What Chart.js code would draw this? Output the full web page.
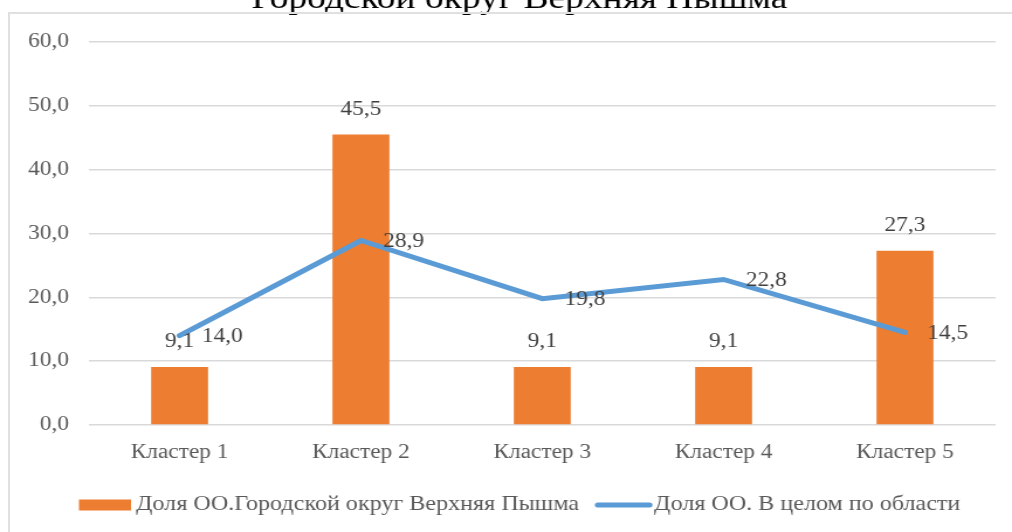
<!DOCTYPE html>
<html>
<head>
<meta charset="utf-8">
<script src="https://cdn.jsdelivr.net/npm/chart.js@4.4.0/dist/chart.umd.min.js"></script>
<style>
  html, body { margin: 0; padding: 0; background: #fff; }
  #wrap { position: relative; width: 1012px; height: 532px; overflow: hidden; }
  #frameTop { position: absolute; left: 9px; top: 12px; right: 0; height: 2px; background: #e0e0e0; }
  #frameLeft { position: absolute; left: 8px; top: 12px; bottom: 0; width: 2px; background: #e0e0e0; }
</style>
</head>
<body>
<div id="wrap">
  <!-- исходная картинка растянута по горизонтали ~1.17 раза -->
  <canvas id="chart" width="865" height="532" style="display:block;width:1012px;height:532px"></canvas>
  <div id="frameTop"></div>
  <div id="frameLeft"></div>
</div>
<script>
  const title = "Городской округ Верхняя Пышма";
  const categories = ["Кластер 1", "Кластер 2", "Кластер 3", "Кластер 4", "Кластер 5"];
  const barLabel = "Доля ОО.Городской округ Верхняя Пышма";
  const barValues = [9.1, 45.5, 9.1, 9.1, 27.3];
  const lineLabel = "Доля ОО. В целом по области";
  const lineValues = [14.0, 28.9, 19.8, 22.8, 14.5];
  const yTicks = { min: 0, max: 60, step: 10 };

  const SERIF = '"Liberation Serif", "Times New Roman", serif';
  const fmt = (v) => v.toFixed(1).replace(".", ",");

  // заголовок (обрезан сверху, как на исходной картинке)
  const titlePlugin = {
    id: "cutTitle",
    afterDraw(chart) {
      const ctx = chart.ctx;
      ctx.save();
      ctx.font = "32px " + SERIF;
      ctx.fillStyle = "#000";
      ctx.textAlign = "center";
      ctx.textBaseline = "alphabetic";
      ctx.fillText(title, 444, 8);
      ctx.restore();
    },
  };

  // подписи значений
  const valueLabels = {
    id: "valueLabels",
    afterDatasetsDraw(chart) {
      const ctx = chart.ctx;
      ctx.save();
      ctx.font = "20px " + SERIF;
      ctx.fillStyle = "#404040";
      ctx.textBaseline = "middle";
      chart.data.datasets.forEach((ds, i) => {
        const meta = chart.getDatasetMeta(i);
        meta.data.forEach((el, j) => {
          const txt = fmt(ds.data[j]);
          if (ds.type === "bar") {
            ctx.textAlign = "center";
            ctx.fillText(txt, el.x, el.y - 25);
          } else {
            ctx.textAlign = "left";
            ctx.fillText(txt, el.x + 19, el.y + 1);
          }
        });
      });
      ctx.restore();
    },
  };

  // легенда снизу
  const bottomLegend = {
    id: "bottomLegend",
    afterDraw(chart) {
      const ctx = chart.ctx;
      ctx.save();
      ctx.font = "20.6px " + SERIF;
      ctx.textBaseline = "middle";
      ctx.textAlign = "left";
      const y = 505;
      const items = chart.data.datasets.map((ds) => ({
        text: ds.label,
        kind: ds.type,
        color: ds.type === "bar" ? ds.backgroundColor : ds.borderColor,
        sw: ds.type === "bar" ? 44.5 : 48.7,
        gap: ds.type === "bar" ? 4.3 : 1.7,
      }));
      const between = 13.7;
      let x = 67.5;
      items.forEach((it, k) => {
        it.tw = ctx.measureText(it.text).width;
        if (k) x += between;
        if (it.kind === "bar") {
          ctx.fillStyle = it.color;
          ctx.fillRect(x, y - 5.5, it.sw, 11);
        } else {
          ctx.strokeStyle = it.color;
          ctx.lineWidth = 5;
          ctx.lineCap = "round";
          ctx.beginPath();
          ctx.moveTo(x + 2.2, y);
          ctx.lineTo(x + it.sw - 2.2, y);
          ctx.stroke();
        }
        x += it.sw + it.gap;
        ctx.fillStyle = "#595959";
        ctx.fillText(it.text, x, y);
        x += it.tw;
      });
      ctx.restore();
    },
  };

  new Chart(document.getElementById("chart"), {
    data: {
      labels: categories,
      datasets: [
        {
          type: "bar",
          label: barLabel,
          data: barValues,
          backgroundColor: "#ed7d31",
          categoryPercentage: 1,
          barPercentage: 0.314,
          order: 2,
        },
        {
          type: "line",
          label: lineLabel,
          data: lineValues,
          borderColor: "#5b9bd5",
          borderWidth: 5,
          borderCapStyle: "round",
          pointRadius: 0,
          pointHoverRadius: 0,
          tension: 0,
          fill: false,
          order: 1,
        },
      ],
    },
    options: {
      responsive: false,
      animation: false,
      events: [],
      devicePixelRatio: 1,
      layout: { padding: { left: 0, right: 14, top: 42, bottom: 0 } },
      plugins: {
        legend: { display: false },
        title: { display: false },
        tooltip: { enabled: false },
      },
      scales: {
        x: {
          grid: { display: false, drawTicks: false },
          border: { display: false },
          ticks: { color: "#595959", font: { family: SERIF, size: 20 }, padding: 16, maxRotation: 0 },
          afterFit(s) { s.height = 107; },
        },
        y: {
          min: yTicks.min,
          max: yTicks.max,
          grid: { color: "#d9d9d9", lineWidth: 1.5, drawTicks: false },
          border: { display: false },
          ticks: {
            stepSize: yTicks.step,
            color: "#595959",
            font: { family: SERIF, size: 20 },
            padding: 17,
            callback: (v) => fmt(v),
          },
          afterFit(s) { s.width = 76; },
        },
      },
    },
    plugins: [titlePlugin, valueLabels, bottomLegend],
  });
</script>
</body>
</html>
